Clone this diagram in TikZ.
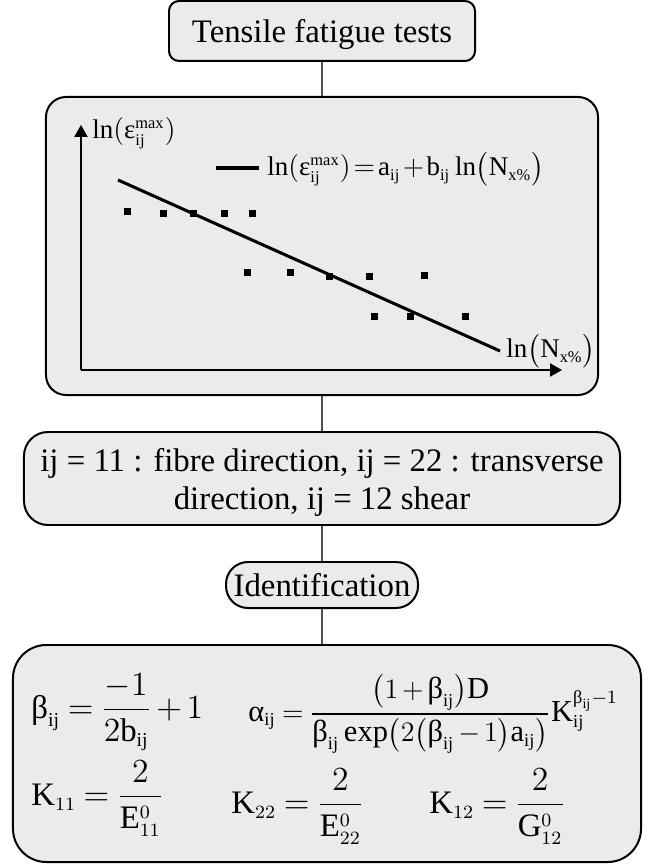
\documentclass[tikz,border=0pt]{standalone}
\usepackage{amsmath}
\usepackage{fontspec}
\setmainfont{Liberation Serif}
\usepackage{xcolor}
\usetikzlibrary{arrows.meta}

\definecolor{boxfill}{HTML}{EBEBEB}
\definecolor{linkgray}{HTML}{505050}
\DeclareMathSizes{14}{14}{8.4}{6.4}
\DeclareMathSizes{13}{13}{7.8}{6}
\DeclareMathSizes{11.5}{11.5}{7}{5.4}
\newcommand{\idx}{\text{ij}}
\newcommand{\gbeta}{\text{β}}
\newcommand{\galpha}{\text{α}}
\newcommand{\geps}{\text{ε}}
\newcommand{\tightmath}{\thickmuskip=2mu\medmuskip=1.5mu}
\newcommand{\eqnmath}{\thickmuskip=4mu\medmuskip=2.5mu}

\begin{document}
\begin{tikzpicture}[
    x=0.015cm, y=-0.015cm,
    box/.style   = {draw, line width=0.85pt, fill=boxfill,
                    inner sep=0pt, align=center, text depth=0pt,
                    font=\fontsize{14}{16.2}\selectfont},
    link/.style  = {draw=linkgray, line width=0.55pt},
    axis/.style  = {line width=0.6pt,
                    -{Triangle[length=0.18cm, width=0.2cm]}},
    trend/.style = {line width=1.3pt},
    plotlbl/.style = {inner sep=0pt, anchor=base west,
                      font=\fontsize{11.5}{14}\selectfont\tightmath},
    eqn/.style   = {inner sep=0pt, anchor=base west,
                    font=\fontsize{14}{16}\selectfont\eqnmath}
]
\useasboundingbox (0,0) rectangle (655,866);

%% Boxes
\node[box, rounded corners=0.15cm, minimum width=4.59cm,
      minimum height=0.90cm] (tests) at (322,31)
    {Tensile fatigue tests};
\node[box, rounded corners=0.3cm, minimum width=8.28cm,
      minimum height=4.47cm] (plot) at (322,246) {};
\node[box, rounded corners=0.36cm, minimum width=8.94cm,
      minimum height=1.395cm] (dirs) at (322,478.5)
    {ij = 11 : fibre direction, ij = 22 : transverse\\
     direction, ij = 12 shear};
\node[box, rounded corners=0.33cm, minimum width=2.88cm,
      minimum height=0.69cm] (ident) at (322,585)
    {Identification};
\node[box, rounded corners=0.5cm, minimum width=9.42cm,
      minimum height=3.255cm] (formulas) at (327,753.5) {};

%% Connectors
\draw[link] (tests) -- (plot);
\draw[link] (plot)  -- (dirs);
\draw[link] (dirs)  -- (ident);
\draw[link] (ident.south) -- (ident.south |- formulas.north);

%% Plot
\coordinate (orig) at (81,370);
\draw[axis] (orig) -- (81,125);
\draw[axis] (orig) -- (562,370);
\draw[trend] (118,180) -- (500,351);
\draw[trend] (216,168) -- (259,168);
\foreach \x/\y in {127/212, 163/214, 193/214, 224/214, 252/214,
                   247/273, 290/273, 329/277, 369/277, 424/276,
                   374/317, 410/317, 465/317}
    \fill (\x,\y) ++(-3.5,-3.5) rectangle ++(7,7);
\node[plotlbl] (ylbl) at (92,139)
    {$\text{ln}(\geps_{\idx}^{\text{max}})$};
\node[plotlbl] (law) at (267,176)
    {$\text{ln}(\geps_{\idx}^{\text{max}}) = \mathrm{a}_{\idx}
      + \mathrm{b}_{\idx}\,\text{ln}\bigl(\mathrm{N}_{\text{x\%}}\bigr)$};
\node[plotlbl] (xlbl) at (506,358)
    {$\text{ln}\bigl(\mathrm{N}_{\text{x\%}}\bigr)$};

%% Formulas
\node[eqn] (fbeta) at (31,718)
    {$\displaystyle \gbeta_{\idx} = \frac{-1}{2\mathrm{b}_{\idx}} + 1$};
\node[eqn, font=\fontsize{13}{15}\selectfont\eqnmath] (falpha)
    at (248,721)
    {$\displaystyle \galpha_{\idx} =
      \frac{\bigl(1+\gbeta_{\idx}\bigr)\mathrm{D}}
           {\gbeta_{\idx}\,\mathrm{exp}\bigl(2\bigl(\gbeta_{\idx}-1\bigr)
            \mathrm{a}_{\idx}\bigr)}
      \mathrm{K}_{\idx}^{\gbeta_{\idx}-1}$};
\node[eqn] (fk11) at (31,805)
    {$\displaystyle \mathrm{K}_{11} = \frac{2}{\mathrm{E}_{11}^{0}}$};
\node[eqn] (fk22) at (231,813)
    {$\displaystyle \mathrm{K}_{22} = \frac{2}{\mathrm{E}_{22}^{0}}$};
\node[eqn] (fk12) at (429,813)
    {$\displaystyle \mathrm{K}_{12} = \frac{2}{\mathrm{G}_{12}^{0}}$};
\end{tikzpicture}
\end{document}
